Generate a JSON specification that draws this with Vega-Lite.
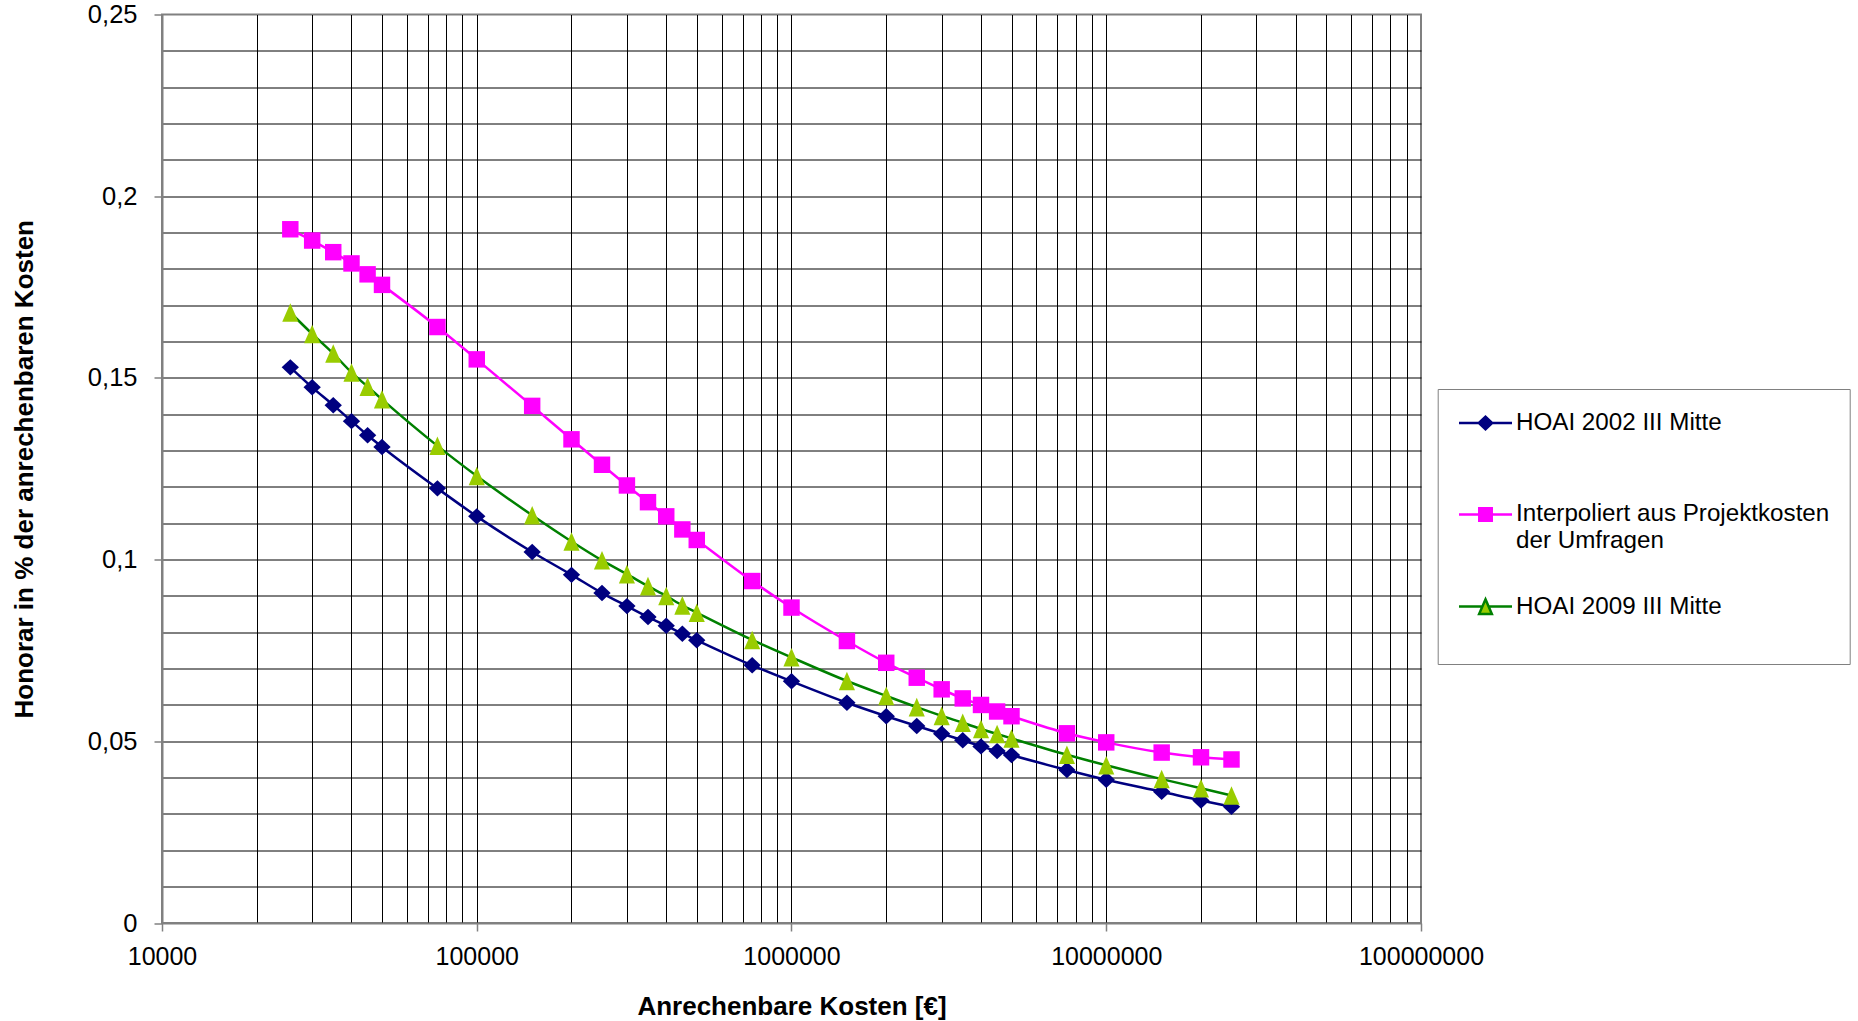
{
  "$schema": "https://vega.github.io/schema/vega-lite/v6.json",
  "width": 1259,
  "height": 908.5,
  "autosize": "none",
  "padding": {"left": 162, "top": 14.5, "right": 437, "bottom": 98},
  "background": "white",
  "config": {
    "view": {"stroke": "#808080", "strokeWidth": 2},
    "font": "Liberation Sans"
  },
  "data": {
    "values": [
      {"kosten": 25565, "reihe": "HOAI 2002 III Mitte", "honorar": 0.1529},
      {"kosten": 30000, "reihe": "HOAI 2002 III Mitte", "honorar": 0.1474},
      {"kosten": 35000, "reihe": "HOAI 2002 III Mitte", "honorar": 0.1425},
      {"kosten": 40000, "reihe": "HOAI 2002 III Mitte", "honorar": 0.1381},
      {"kosten": 45000, "reihe": "HOAI 2002 III Mitte", "honorar": 0.1342},
      {"kosten": 50000, "reihe": "HOAI 2002 III Mitte", "honorar": 0.1310},
      {"kosten": 75000, "reihe": "HOAI 2002 III Mitte", "honorar": 0.1196},
      {"kosten": 100000, "reihe": "HOAI 2002 III Mitte", "honorar": 0.1119},
      {"kosten": 150000, "reihe": "HOAI 2002 III Mitte", "honorar": 0.1021},
      {"kosten": 200000, "reihe": "HOAI 2002 III Mitte", "honorar": 0.0958},
      {"kosten": 250000, "reihe": "HOAI 2002 III Mitte", "honorar": 0.0908},
      {"kosten": 300000, "reihe": "HOAI 2002 III Mitte", "honorar": 0.0872},
      {"kosten": 350000, "reihe": "HOAI 2002 III Mitte", "honorar": 0.0842},
      {"kosten": 400000, "reihe": "HOAI 2002 III Mitte", "honorar": 0.0818},
      {"kosten": 450000, "reihe": "HOAI 2002 III Mitte", "honorar": 0.0796},
      {"kosten": 500000, "reihe": "HOAI 2002 III Mitte", "honorar": 0.0778},
      {"kosten": 750000, "reihe": "HOAI 2002 III Mitte", "honorar": 0.0709},
      {"kosten": 1000000, "reihe": "HOAI 2002 III Mitte", "honorar": 0.0665},
      {"kosten": 1500000, "reihe": "HOAI 2002 III Mitte", "honorar": 0.0606},
      {"kosten": 2000000, "reihe": "HOAI 2002 III Mitte", "honorar": 0.0569},
      {"kosten": 2500000, "reihe": "HOAI 2002 III Mitte", "honorar": 0.0542},
      {"kosten": 3000000, "reihe": "HOAI 2002 III Mitte", "honorar": 0.0521},
      {"kosten": 3500000, "reihe": "HOAI 2002 III Mitte", "honorar": 0.0503},
      {"kosten": 4000000, "reihe": "HOAI 2002 III Mitte", "honorar": 0.0486},
      {"kosten": 4500000, "reihe": "HOAI 2002 III Mitte", "honorar": 0.0473},
      {"kosten": 5000000, "reihe": "HOAI 2002 III Mitte", "honorar": 0.0462},
      {"kosten": 7500000, "reihe": "HOAI 2002 III Mitte", "honorar": 0.0421},
      {"kosten": 10000000, "reihe": "HOAI 2002 III Mitte", "honorar": 0.0394},
      {"kosten": 15000000, "reihe": "HOAI 2002 III Mitte", "honorar": 0.0361},
      {"kosten": 20000000, "reihe": "HOAI 2002 III Mitte", "honorar": 0.0337},
      {"kosten": 25000000, "reihe": "HOAI 2002 III Mitte", "honorar": 0.0320},
      {"kosten": 25565, "reihe": "Interpoliert aus Projektkosten der Umfragen", "honorar": 0.1909},
      {"kosten": 30000, "reihe": "Interpoliert aus Projektkosten der Umfragen", "honorar": 0.1878},
      {"kosten": 35000, "reihe": "Interpoliert aus Projektkosten der Umfragen", "honorar": 0.1846},
      {"kosten": 40000, "reihe": "Interpoliert aus Projektkosten der Umfragen", "honorar": 0.1815},
      {"kosten": 45000, "reihe": "Interpoliert aus Projektkosten der Umfragen", "honorar": 0.1785},
      {"kosten": 50000, "reihe": "Interpoliert aus Projektkosten der Umfragen", "honorar": 0.1756},
      {"kosten": 75000, "reihe": "Interpoliert aus Projektkosten der Umfragen", "honorar": 0.1640},
      {"kosten": 100000, "reihe": "Interpoliert aus Projektkosten der Umfragen", "honorar": 0.1551},
      {"kosten": 150000, "reihe": "Interpoliert aus Projektkosten der Umfragen", "honorar": 0.1423},
      {"kosten": 200000, "reihe": "Interpoliert aus Projektkosten der Umfragen", "honorar": 0.1331},
      {"kosten": 250000, "reihe": "Interpoliert aus Projektkosten der Umfragen", "honorar": 0.1261},
      {"kosten": 300000, "reihe": "Interpoliert aus Projektkosten der Umfragen", "honorar": 0.1204},
      {"kosten": 350000, "reihe": "Interpoliert aus Projektkosten der Umfragen", "honorar": 0.1158},
      {"kosten": 400000, "reihe": "Interpoliert aus Projektkosten der Umfragen", "honorar": 0.1119},
      {"kosten": 450000, "reihe": "Interpoliert aus Projektkosten der Umfragen", "honorar": 0.1083},
      {"kosten": 500000, "reihe": "Interpoliert aus Projektkosten der Umfragen", "honorar": 0.1054},
      {"kosten": 750000, "reihe": "Interpoliert aus Projektkosten der Umfragen", "honorar": 0.0941},
      {"kosten": 1000000, "reihe": "Interpoliert aus Projektkosten der Umfragen", "honorar": 0.0868},
      {"kosten": 1500000, "reihe": "Interpoliert aus Projektkosten der Umfragen", "honorar": 0.0776},
      {"kosten": 2000000, "reihe": "Interpoliert aus Projektkosten der Umfragen", "honorar": 0.0716},
      {"kosten": 2500000, "reihe": "Interpoliert aus Projektkosten der Umfragen", "honorar": 0.0675},
      {"kosten": 3000000, "reihe": "Interpoliert aus Projektkosten der Umfragen", "honorar": 0.0643},
      {"kosten": 3500000, "reihe": "Interpoliert aus Projektkosten der Umfragen", "honorar": 0.0618},
      {"kosten": 4000000, "reihe": "Interpoliert aus Projektkosten der Umfragen", "honorar": 0.0600},
      {"kosten": 4500000, "reihe": "Interpoliert aus Projektkosten der Umfragen", "honorar": 0.0582},
      {"kosten": 5000000, "reihe": "Interpoliert aus Projektkosten der Umfragen", "honorar": 0.0569},
      {"kosten": 7500000, "reihe": "Interpoliert aus Projektkosten der Umfragen", "honorar": 0.0522},
      {"kosten": 10000000, "reihe": "Interpoliert aus Projektkosten der Umfragen", "honorar": 0.0497},
      {"kosten": 15000000, "reihe": "Interpoliert aus Projektkosten der Umfragen", "honorar": 0.0469},
      {"kosten": 20000000, "reihe": "Interpoliert aus Projektkosten der Umfragen", "honorar": 0.0456},
      {"kosten": 25000000, "reihe": "Interpoliert aus Projektkosten der Umfragen", "honorar": 0.0450},
      {"kosten": 25565, "reihe": "HOAI 2009 III Mitte", "honorar": 0.1680},
      {"kosten": 30000, "reihe": "HOAI 2009 III Mitte", "honorar": 0.1621},
      {"kosten": 35000, "reihe": "HOAI 2009 III Mitte", "honorar": 0.1567},
      {"kosten": 40000, "reihe": "HOAI 2009 III Mitte", "honorar": 0.1515},
      {"kosten": 45000, "reihe": "HOAI 2009 III Mitte", "honorar": 0.1476},
      {"kosten": 50000, "reihe": "HOAI 2009 III Mitte", "honorar": 0.1441},
      {"kosten": 75000, "reihe": "HOAI 2009 III Mitte", "honorar": 0.1313},
      {"kosten": 100000, "reihe": "HOAI 2009 III Mitte", "honorar": 0.1230},
      {"kosten": 150000, "reihe": "HOAI 2009 III Mitte", "honorar": 0.1122},
      {"kosten": 200000, "reihe": "HOAI 2009 III Mitte", "honorar": 0.1050},
      {"kosten": 250000, "reihe": "HOAI 2009 III Mitte", "honorar": 0.0998},
      {"kosten": 300000, "reihe": "HOAI 2009 III Mitte", "honorar": 0.0960},
      {"kosten": 350000, "reihe": "HOAI 2009 III Mitte", "honorar": 0.0927},
      {"kosten": 400000, "reihe": "HOAI 2009 III Mitte", "honorar": 0.0900},
      {"kosten": 450000, "reihe": "HOAI 2009 III Mitte", "honorar": 0.0874},
      {"kosten": 500000, "reihe": "HOAI 2009 III Mitte", "honorar": 0.0854},
      {"kosten": 750000, "reihe": "HOAI 2009 III Mitte", "honorar": 0.0779},
      {"kosten": 1000000, "reihe": "HOAI 2009 III Mitte", "honorar": 0.0731},
      {"kosten": 1500000, "reihe": "HOAI 2009 III Mitte", "honorar": 0.0666},
      {"kosten": 2000000, "reihe": "HOAI 2009 III Mitte", "honorar": 0.0625},
      {"kosten": 2500000, "reihe": "HOAI 2009 III Mitte", "honorar": 0.0594},
      {"kosten": 3000000, "reihe": "HOAI 2009 III Mitte", "honorar": 0.0570},
      {"kosten": 3500000, "reihe": "HOAI 2009 III Mitte", "honorar": 0.0551},
      {"kosten": 4000000, "reihe": "HOAI 2009 III Mitte", "honorar": 0.0534},
      {"kosten": 4500000, "reihe": "HOAI 2009 III Mitte", "honorar": 0.0520},
      {"kosten": 5000000, "reihe": "HOAI 2009 III Mitte", "honorar": 0.0508},
      {"kosten": 7500000, "reihe": "HOAI 2009 III Mitte", "honorar": 0.0463},
      {"kosten": 10000000, "reihe": "HOAI 2009 III Mitte", "honorar": 0.0434},
      {"kosten": 15000000, "reihe": "HOAI 2009 III Mitte", "honorar": 0.0396},
      {"kosten": 20000000, "reihe": "HOAI 2009 III Mitte", "honorar": 0.0371},
      {"kosten": 25000000, "reihe": "HOAI 2009 III Mitte", "honorar": 0.0351}
    ]
  },
  "encoding": {
    "x": {
      "field": "kosten",
      "type": "quantitative",
      "scale": {"type": "log", "domain": [10000, 100000000], "nice": false},
      "axis": {
        "values": [10000, 20000, 30000, 40000, 50000, 60000, 70000, 80000, 90000, 100000, 200000, 300000, 400000, 500000, 600000, 700000, 800000, 900000, 1000000, 2000000, 3000000, 4000000, 5000000, 6000000, 7000000, 8000000, 9000000, 10000000, 20000000, 30000000, 40000000, 50000000, 60000000, 70000000, 80000000, 90000000, 100000000],
        "grid": true,
        "gridColor": "#000000",
        "gridWidth": 1,
        "gridOpacity": {"condition": {"test": "datum.value <= 10000 || datum.value >= 100000000", "value": 0}, "value": 1},
        "domainColor": "#808080",
        "domainWidth": 2,
        "tickColor": "#808080",
        "tickWidth": 1.5,
        "tickSize": 8,
        "tickOpacity": {"condition": {"test": "abs(log(datum.value)/LN10 - round(log(datum.value)/LN10)) < 0.000001", "value": 1}, "value": 0},
        "labelExpr": "abs(log(datum.value)/LN10 - round(log(datum.value)/LN10)) < 0.000001 ? format(datum.value, 'd') : ''",
        "labelFont": "Liberation Sans",
        "labelFontSize": 25,
        "labelColor": "#000000",
        "labelPadding": 13.5,
        "labelFlush": false,
        "labelOverlap": false,
        "title": "Anrechenbare Kosten [€]",
        "titleFont": "Liberation Sans",
        "titleFontSize": 26,
        "titleFontWeight": "bold",
        "titleColor": "#000000",
        "titlePadding": 23.5
      }
    },
    "y": {
      "field": "honorar",
      "type": "quantitative",
      "scale": {"domain": [0, 0.25], "nice": false},
      "axis": {
        "values": [0, 0.01, 0.02, 0.03, 0.04, 0.05, 0.06, 0.07, 0.08, 0.09, 0.1, 0.11, 0.12, 0.13, 0.14, 0.15, 0.16, 0.17, 0.18, 0.19, 0.2, 0.21, 0.22, 0.23, 0.24, 0.25],
        "grid": true,
        "gridColor": "#000000",
        "gridWidth": 1,
        "gridOpacity": {"condition": {"test": "datum.value <= 0 || datum.value >= 0.25", "value": 0}, "value": 1},
        "domainColor": "#808080",
        "domainWidth": 2,
        "tickColor": "#808080",
        "tickWidth": 1.5,
        "tickSize": 8,
        "tickOpacity": {"condition": {"test": "abs(datum.value*20 - round(datum.value*20)) < 0.000001", "value": 1}, "value": 0},
        "labelExpr": "abs(datum.value*20 - round(datum.value*20)) < 0.000001 ? replace(format(datum.value, '.2~f'), '.', ',') : ''",
        "labelFont": "Liberation Sans",
        "labelFontSize": 25.5,
        "labelColor": "#000000",
        "labelPadding": 17,
        "labelFlush": false,
        "labelOverlap": false,
        "title": "Honorar in % der anrechenbaren Kosten",
        "titleFont": "Liberation Sans",
        "titleFontSize": 26,
        "titleFontWeight": "bold",
        "titleColor": "#000000",
        "titlePadding": 50
      }
    }
  },
  "layer": [
    {
      "mark": {"type": "line", "strokeWidth": 2.5, "interpolate": "monotone"},
      "encoding": {
        "stroke": {
          "field": "reihe",
          "type": "nominal",
          "scale": {"domain": ["HOAI 2002 III Mitte", "Interpoliert aus Projektkosten der Umfragen", "HOAI 2009 III Mitte"], "range": ["#000080", "#FF00FF", "#008000"]},
          "legend": null
        }
      }
    },
    {
      "mark": {"type": "point", "filled": true, "opacity": 1, "size": 300, "strokeWidth": 0},
      "encoding": {
        "shape": {
          "field": "reihe",
          "type": "nominal",
          "scale": {"domain": ["HOAI 2002 III Mitte", "Interpoliert aus Projektkosten der Umfragen", "HOAI 2009 III Mitte"], "range": ["M-1,0L0,-0.95L1,0L0,0.95Z", "M-0.95,-0.95H0.95V0.95H-0.95Z", "M0,-1.07L0.93,1.07L-0.93,1.07Z"]},
          "legend": null
        },
        "fill": {
          "field": "reihe",
          "type": "nominal",
          "scale": {"domain": ["HOAI 2002 III Mitte", "Interpoliert aus Projektkosten der Umfragen", "HOAI 2009 III Mitte"], "range": ["#000080", "#FF00FF", "#99CC00"]},
          "legend": null
        }
      }
    },
    {
      "transform": [{"filter": "datum.honorar < 0"}],
      "mark": {"type": "point", "filled": true, "opacity": 1, "size": 702, "strokeWidth": 2.5},
      "encoding": {
        "shape": {
          "field": "reihe",
          "type": "nominal",
          "scale": {"domain": ["HOAI 2002 III Mitte", "Interpoliert aus Projektkosten der Umfragen", "HOAI 2009 III Mitte"], "range": ["M-2,0H2M-0.5,0L0,-0.48L0.5,0L0,0.48Z", "M-2,1.98H2M-0.47,1.51H0.47V2.45H-0.47Z", "M-2,0H-0.25M0.25,0H2M0,-0.55L0.48,0.55L-0.48,0.55Z"]},
          "legend": {
            "orient": "none",
            "legendX": 1275.7,
            "legendY": 374.5,
            "direction": "vertical",
            "title": " ",
            "titleOrient": "bottom",
            "titleFontSize": 10,
            "titlePadding": 16,
            "padding": 19.5,
            "strokeColor": "#808080",
            "fillColor": "#FFFFFF",
            "symbolSize": 702,
            "symbolStrokeWidth": 2.5,
            "symbolOpacity": 1,
            "symbolOffset": 13.8,
            "labelOffset": 16,
            "rowPadding": 38.3,
            "labelFont": "Liberation Sans",
            "labelFontSize": 24.2,
            "labelColor": "#000000",
            "labelLimit": 600,
            "labelExpr": "datum.label == 'Interpoliert aus Projektkosten der Umfragen' ? ['', 'Interpoliert aus Projektkosten', 'der Umfragen'] : datum.label"
          }
        },
        "fill": {
          "field": "reihe",
          "type": "nominal",
          "scale": {"domain": ["HOAI 2002 III Mitte", "Interpoliert aus Projektkosten der Umfragen", "HOAI 2009 III Mitte"], "range": ["#000080", "#FF00FF", "#99CC00"]}
        },
        "stroke": {
          "field": "reihe",
          "type": "nominal",
          "scale": {"domain": ["HOAI 2002 III Mitte", "Interpoliert aus Projektkosten der Umfragen", "HOAI 2009 III Mitte"], "range": ["#000080", "#FF00FF", "#008000"]}
        }
      }
    }
  ],
  "resolve": {"scale": {"shape": "independent", "fill": "independent", "stroke": "independent"}}
}
